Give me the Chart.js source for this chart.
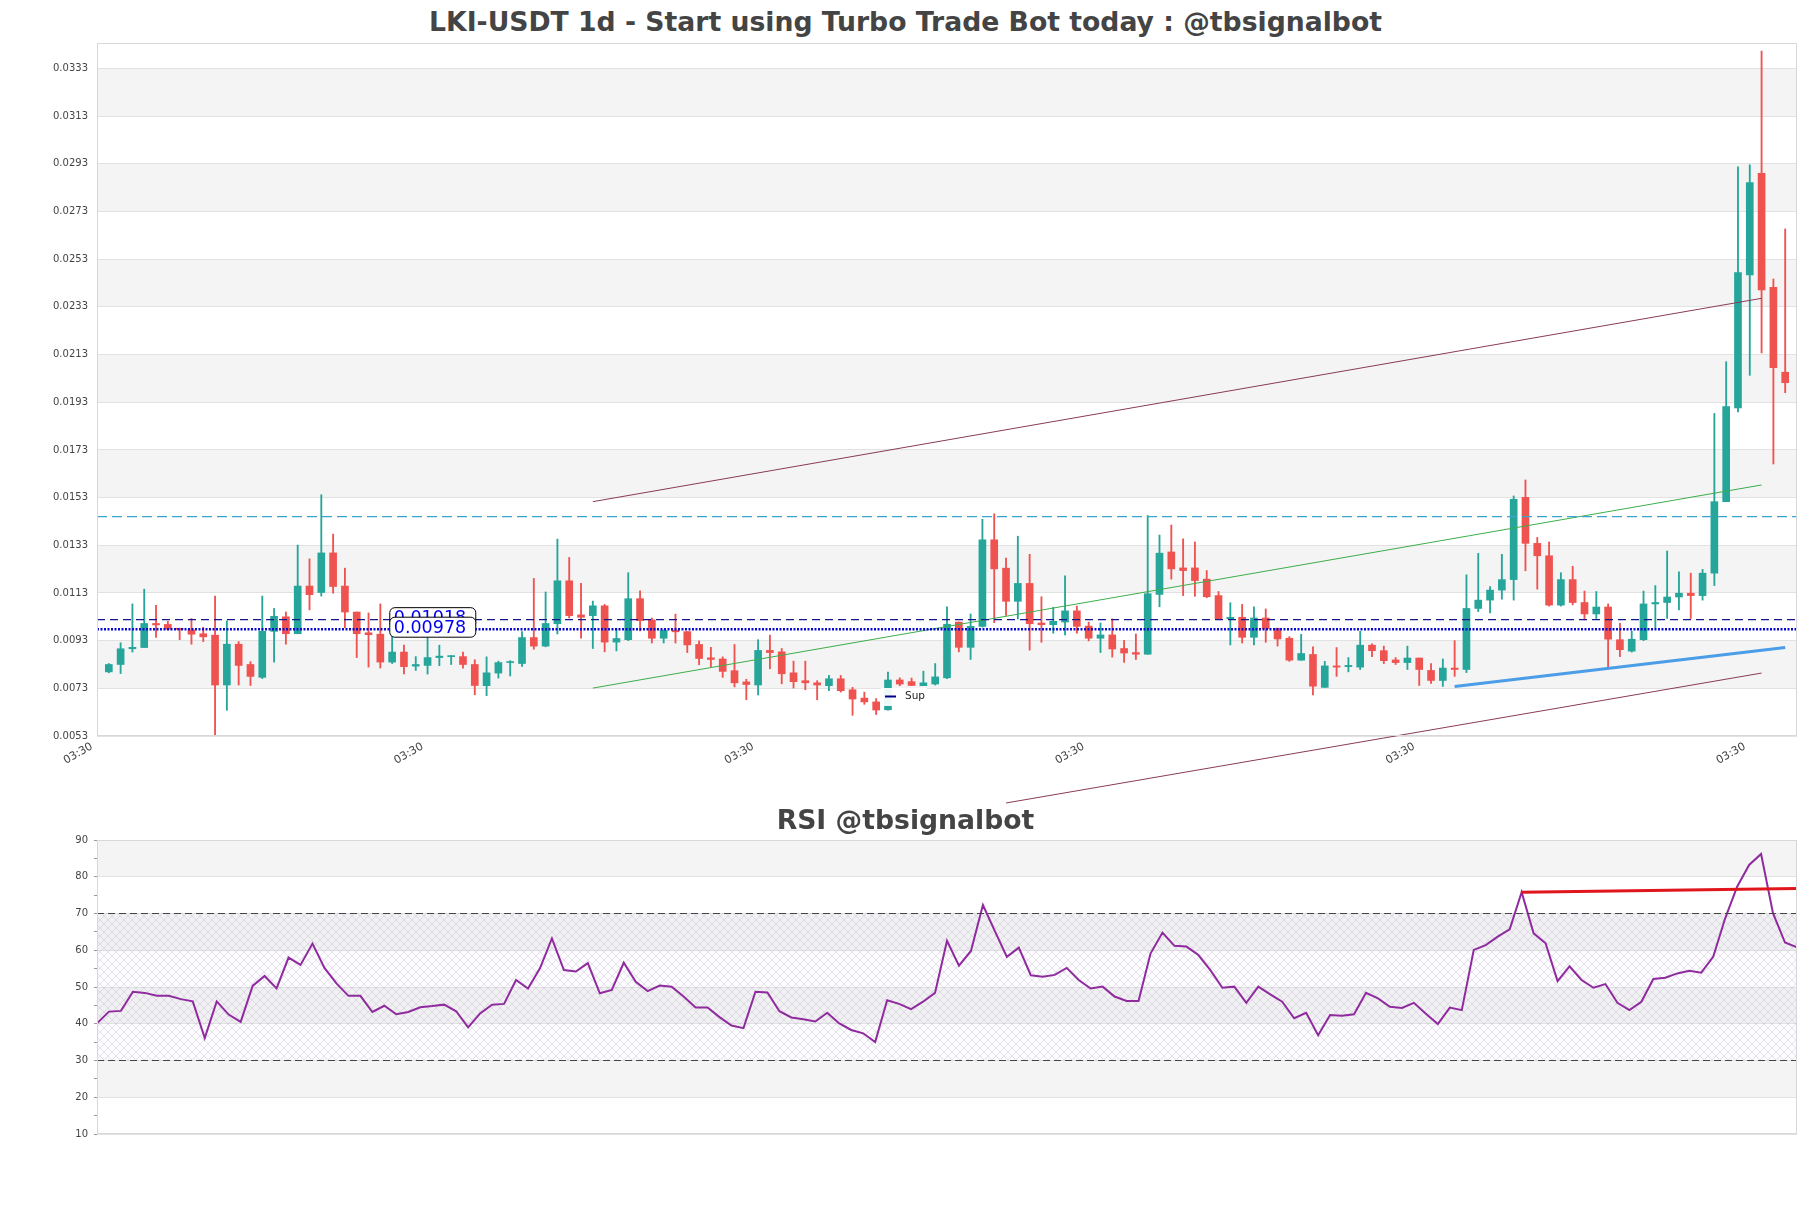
<!DOCTYPE html>
<html>
<head>
<meta charset="utf-8">
<title>LKI-USDT 1d</title>
<script src="https://cdn.jsdelivr.net/npm/chart.js@4.4.1/dist/chart.umd.min.js"></script>
<style>
  html, body { margin: 0; padding: 0; background: #fff; }
  body { width: 1811px; height: 1208px; position: relative; overflow: hidden; font-family: 'DejaVu Sans', sans-serif; }
  .title { position: absolute; left: 0; width: 1811px; text-align: center; font-weight: bold;
           font-size: 26.67px; line-height: 26.67px; color: #444; white-space: nowrap; }
  #mainChart { position: absolute; left: 0; top: 0; }
  #rsiChart { position: absolute; left: 0; top: 820px; }
</style>
</head>
<body>
<div class="title" style="top:9px">LKI-USDT 1d - Start using Turbo Trade Bot today : @tbsignalbot</div>
<canvas id="mainChart" width="1811" height="820"></canvas>
<canvas id="rsiChart" width="1811" height="388"></canvas>
<div class="title" style="top:807px">RSI @tbsignalbot</div>

<script>
/* LKI-USDT 1d — candles, levels, trend lines and RSI */

// ============ DATA ============
const opens = [
  0.00799, 0.00830, 0.00896, 0.00901, 0.01002, 0.00998, 0.00982, 0.00975, 0.00959, 0.00953,
  0.00744, 0.00915, 0.00830, 0.00776, 0.00969, 0.01030, 0.00959, 0.01159, 0.01132, 0.01298,
  0.01159, 0.01050, 0.00963, 0.00957, 0.00840, 0.00882, 0.00823, 0.00826, 0.00859, 0.00863,
  0.00863, 0.00830, 0.00741, 0.00794, 0.00838, 0.00834, 0.00943, 0.00907, 0.01001, 0.01181,
  0.01038, 0.01035, 0.01076, 0.00924, 0.00934, 0.01106, 0.01017, 0.00940, 0.00974, 0.00968,
  0.00914, 0.00858, 0.00853, 0.00804, 0.00757, 0.00744, 0.00889, 0.00883, 0.00795, 0.00762,
  0.00753, 0.00741, 0.00770, 0.00724, 0.00689, 0.00673, 0.00640, 0.00765, 0.00758, 0.00741,
  0.00748, 0.00774, 0.01008, 0.00902, 0.00990, 0.01353, 0.01234, 0.01095, 0.01170, 0.01004,
  0.00997, 0.01008, 0.01055, 0.00991, 0.00940, 0.00954, 0.00897, 0.00880, 0.00873, 0.01124,
  0.01302, 0.01235, 0.01235, 0.01188, 0.01119, 0.01022, 0.01028, 0.00944, 0.01025, 0.00982,
  0.00940, 0.00848, 0.00872, 0.00734, 0.00824, 0.00821, 0.00819, 0.00911, 0.00888, 0.00849,
  0.00838, 0.00857, 0.00805, 0.00763, 0.00815, 0.00809, 0.01065, 0.01100, 0.01142, 0.01186,
  0.01531, 0.01338, 0.01286, 0.01079, 0.01186, 0.01090, 0.01042, 0.01071, 0.00934, 0.00886,
  0.00934, 0.01084, 0.01090, 0.01113, 0.01129, 0.01119, 0.01213, 0.01513, 0.01906, 0.02464,
  0.02890, 0.02412, 0.02056
];
const highs = [
  0.00834, 0.00921, 0.01084, 0.01146, 0.01078, 0.01011, 0.00982, 0.01023, 0.00986, 0.01117,
  0.01013, 0.00926, 0.00842, 0.01117, 0.01065, 0.01050, 0.01331, 0.01273, 0.01542, 0.01377,
  0.01234, 0.01050, 0.01046, 0.01084, 0.00953, 0.00911, 0.00863, 0.00950, 0.00911, 0.00867,
  0.00882, 0.00850, 0.00862, 0.00844, 0.00846, 0.00968, 0.01191, 0.01134, 0.01356, 0.01279,
  0.01170, 0.01096, 0.01082, 0.00982, 0.01215, 0.01139, 0.01025, 0.00975, 0.01041, 0.00968,
  0.00929, 0.00902, 0.00862, 0.00914, 0.00768, 0.00934, 0.00953, 0.00897, 0.00844, 0.00844,
  0.00762, 0.00784, 0.00784, 0.00734, 0.00714, 0.00687, 0.00798, 0.00774, 0.00773, 0.00802,
  0.00834, 0.01072, 0.01008, 0.01042, 0.01439, 0.01462, 0.01276, 0.01368, 0.01292, 0.01114,
  0.01070, 0.01202, 0.01075, 0.01008, 0.01004, 0.01021, 0.00931, 0.00958, 0.01455, 0.01373,
  0.01415, 0.01357, 0.01344, 0.01224, 0.01136, 0.01089, 0.01082, 0.01072, 0.01063, 0.00982,
  0.00947, 0.00957, 0.00904, 0.00843, 0.00901, 0.00859, 0.00969, 0.00917, 0.00907, 0.00859,
  0.00907, 0.00857, 0.00834, 0.00853, 0.00930, 0.01206, 0.01296, 0.01157, 0.01292, 0.01537,
  0.01604, 0.01363, 0.01344, 0.01215, 0.01242, 0.01138, 0.01136, 0.01084, 0.01003, 0.00969,
  0.01138, 0.01161, 0.01306, 0.01219, 0.01213, 0.01229, 0.01883, 0.02100, 0.02918, 0.02926,
  0.03403, 0.02447, 0.02657
];
const lows = [
  0.00795, 0.00792, 0.00882, 0.00901, 0.00944, 0.00975, 0.00934, 0.00915, 0.00926, 0.00530,
  0.00638, 0.00744, 0.00742, 0.00771, 0.00840, 0.00915, 0.00959, 0.01059, 0.01117, 0.01129,
  0.00984, 0.00859, 0.00819, 0.00815, 0.00834, 0.00790, 0.00805, 0.00790, 0.00825, 0.00830,
  0.00815, 0.00703, 0.00699, 0.00773, 0.00782, 0.00822, 0.00894, 0.00904, 0.00958, 0.01025,
  0.00940, 0.00897, 0.00883, 0.00887, 0.00930, 0.00971, 0.00920, 0.00920, 0.00920, 0.00880,
  0.00829, 0.00821, 0.00776, 0.00736, 0.00682, 0.00702, 0.00812, 0.00749, 0.00731, 0.00724,
  0.00682, 0.00720, 0.00714, 0.00617, 0.00663, 0.00620, 0.00638, 0.00741, 0.00741, 0.00741,
  0.00744, 0.00770, 0.00883, 0.00851, 0.00987, 0.01005, 0.01036, 0.01021, 0.00890, 0.00923,
  0.00961, 0.00954, 0.00961, 0.00929, 0.00880, 0.00861, 0.00839, 0.00851, 0.00873, 0.01072,
  0.01188, 0.01119, 0.01116, 0.01110, 0.01018, 0.00912, 0.00920, 0.00912, 0.00923, 0.00907,
  0.00843, 0.00848, 0.00702, 0.00734, 0.00780, 0.00799, 0.00809, 0.00863, 0.00834, 0.00830,
  0.00809, 0.00742, 0.00751, 0.00738, 0.00780, 0.00796, 0.01052, 0.01046, 0.01104, 0.01100,
  0.01223, 0.01146, 0.01075, 0.01075, 0.01080, 0.01017, 0.01023, 0.00819, 0.00863, 0.00882,
  0.00930, 0.00984, 0.01023, 0.01059, 0.01023, 0.01100, 0.01161, 0.01513, 0.01889, 0.02043,
  0.02137, 0.01671, 0.01970
];
const closes = [
  0.00830, 0.00896, 0.00902, 0.01002, 0.00996, 0.00978, 0.00977, 0.00957, 0.00946, 0.00744,
  0.00915, 0.00826, 0.00780, 0.00969, 0.01032, 0.00959, 0.01159, 0.01123, 0.01298, 0.01157,
  0.01050, 0.00959, 0.00955, 0.00840, 0.00882, 0.00821, 0.00830, 0.00859, 0.00865, 0.00867,
  0.00830, 0.00742, 0.00795, 0.00838, 0.00842, 0.00943, 0.00907, 0.01002, 0.01181, 0.01035,
  0.01028, 0.01076, 0.00924, 0.00939, 0.01106, 0.01014, 0.00940, 0.00973, 0.00967, 0.00912,
  0.00855, 0.00851, 0.00801, 0.00753, 0.00746, 0.00889, 0.00880, 0.00791, 0.00758, 0.00753,
  0.00744, 0.00770, 0.00720, 0.00685, 0.00673, 0.00639, 0.00765, 0.00748, 0.00742, 0.00753,
  0.00778, 0.00999, 0.00902, 0.00990, 0.01353, 0.01231, 0.01095, 0.01170, 0.01001, 0.00997,
  0.01011, 0.01055, 0.00990, 0.00940, 0.00954, 0.00895, 0.00878, 0.00873, 0.01127, 0.01297,
  0.01231, 0.01224, 0.01182, 0.01114, 0.01022, 0.01028, 0.00944, 0.01025, 0.00980, 0.00937,
  0.00848, 0.00876, 0.00739, 0.00824, 0.00819, 0.00826, 0.00911, 0.00888, 0.00846, 0.00838,
  0.00857, 0.00809, 0.00763, 0.00815, 0.00809, 0.01065, 0.01100, 0.01142, 0.01186, 0.01523,
  0.01338, 0.01286, 0.01079, 0.01186, 0.01090, 0.01042, 0.01071, 0.00936, 0.00892, 0.00936,
  0.01084, 0.01090, 0.01113, 0.01129, 0.01119, 0.01213, 0.01513, 0.01912, 0.02474, 0.02851,
  0.02401, 0.02075, 0.02012
];
const rsiValues = [
  40.1, 43.3, 43.5, 48.7, 48.4, 47.6, 47.6, 46.7, 46.1, 36.1,
  46.1, 42.5, 40.5, 50.3, 53.0, 49.6, 58.0, 56.0, 61.8, 55.2,
  51.0, 47.6, 47.6, 43.2, 44.9, 42.6, 43.2, 44.5, 44.8, 45.2,
  43.4, 39.0, 42.8, 45.2, 45.4, 51.9, 49.6, 55.1, 63.2, 54.6,
  54.2, 56.5, 48.3, 49.2, 56.6, 51.4, 48.9, 50.4, 50.1, 47.4,
  44.4, 44.4, 41.8, 39.5, 38.8, 48.7, 48.5, 43.4, 41.7, 41.2,
  40.6, 43.0, 40.1, 38.3, 37.4, 35.0, 46.4, 45.4, 44.0, 46.0,
  48.4, 62.6, 55.8, 59.8, 72.3, 65.2, 58.2, 60.7, 53.2, 52.8,
  53.3, 55.2, 51.9, 49.6, 50.1, 47.4, 46.2, 46.2, 59.1, 64.8,
  61.2, 61.0, 58.7, 54.6, 49.8, 50.1, 45.7, 50.1, 48.0, 46.0,
  41.5, 43.0, 36.9, 42.4, 42.2, 42.6, 48.4, 46.9, 44.6, 44.3,
  45.7, 42.7, 39.9, 44.4, 43.7, 60.1, 61.4, 63.7, 65.7, 75.8,
  64.6, 61.9, 51.6, 55.6, 51.9, 49.8, 50.8, 45.7, 43.7, 46.0,
  52.2, 52.5, 53.7, 54.4, 53.9, 58.2, 68.7, 77.3, 83.2, 86.2,
  70.0, 62.1, 60.8
];

const priceTicks = [0.0053, 0.0073, 0.0093, 0.0113, 0.0133, 0.0153, 0.0173, 0.0193,
                    0.0213, 0.0233, 0.0253, 0.0273, 0.0293, 0.0313, 0.0333];
const rsiTicks = [10, 15, 20, 25, 30, 35, 40, 45, 50, 55, 60, 65, 70, 75, 80, 85, 90];
const xTickIdx = [-1, 27, 55, 83, 111, 139];
const xTickLabels = ['03:30', '03:30', '03:30', '03:30', '03:30', '03:30'];

// horizontal levels: resistance (dash-dot), upper level, lower level
const levelValues = [0.0145, 0.01018, 0.00978];
const boxedLevels = [0.01018, 0.00978];
const boxedLevelIdx = 23.8;

// trend lines [start, end]
const upperChannelX = [41, 140], upperChannelY = [0.01513, 0.02366];
const lowerChannelX = [76, 140], lowerChannelY = [0.00249, 0.00794];
const greenTrendX = [41, 140],   greenTrendY = [0.00731, 0.01583];
const supLineX = [114, 142],     supLineY = [0.00738, 0.00901];
const rsiTrendX = [119, 142],    rsiTrendY = [75.8, 76.8];
const rsiLevels = [70, 30];

const UP = '#26a69a';
const DOWN = '#ef5350';
const FONT = 'DejaVu Sans';

Chart.defaults.font.family = FONT;
Chart.defaults.animation = false;

// ============ PLUGINS ============
const bandsPlugin = {
  id: 'bands',
  beforeDraw(chart, args, opts) {
    const { ctx, chartArea: a, scales: { y } } = chart;
    const major = opts.ticks;
    ctx.save();
    ctx.fillStyle = '#f4f4f4';
    for (let k = 1; k + 1 < major.length; k += 2) {
      const y1 = y.getPixelForValue(major[k + 1]);
      const y2 = y.getPixelForValue(major[k]);
      ctx.fillRect(a.left, y1, a.width, y2 - y1);
    }
    ctx.restore();
  }
};

const framePlugin = {
  id: 'frame',
  afterDraw(chart) {
    const { ctx, chartArea: a } = chart;
    ctx.save();
    ctx.strokeStyle = '#d8d8d8';
    ctx.lineWidth = 1;
    ctx.strokeRect(Math.round(a.left) + 0.5, Math.round(a.top) + 0.5,
                   Math.round(a.width) - 1, Math.round(a.height) - 1);
    ctx.restore();
  }
};

const levelBoxPlugin = {
  id: 'levelBoxes',
  afterDatasetsDraw(chart) {
    const { ctx, scales: { x, y } } = chart;
    const left = x.getPixelForValue(boxedLevelIdx);
    ctx.save();
    ctx.font = '17.5px ' + FONT;
    ctx.textBaseline = 'middle';
    boxedLevels.forEach(v => {
      const cy = y.getPixelForValue(v) - 2;
      ctx.beginPath();
      ctx.roundRect(left, cy - 10, 86, 20, 5);
      ctx.fillStyle = '#fff';
      ctx.fill();
      ctx.strokeStyle = '#000';
      ctx.lineWidth = 1;
      ctx.stroke();
      ctx.fillStyle = '#0000ee';
      ctx.fillText(v.toFixed(5), left + 4, cy + 1);
    });
    ctx.restore();
  }
};

const supLegendPlugin = {
  id: 'supLegend',
  afterDatasetsDraw(chart) {
    const { ctx } = chart;
    ctx.save();
    ctx.fillStyle = 'rgba(255,255,255,0.92)';
    ctx.fillRect(881, 688, 46, 18);
    ctx.strokeStyle = '#00008b';
    ctx.lineWidth = 2;
    ctx.beginPath();
    ctx.moveTo(885, 696.5);
    ctx.lineTo(896, 696.5);
    ctx.stroke();
    ctx.fillStyle = '#222';
    ctx.font = '10.5px ' + FONT;
    ctx.textBaseline = 'middle';
    ctx.fillText('Sup', 905, 696.5);
    ctx.restore();
  }
};

function makeHatch() {
  const c = document.createElement('canvas');
  c.width = 8; c.height = 8;
  const g = c.getContext('2d');
  g.strokeStyle = 'rgba(165,150,185,0.36)';
  g.lineWidth = 0.7;
  g.beginPath();
  g.moveTo(0, 0); g.lineTo(8, 8);
  g.moveTo(8, 0); g.lineTo(0, 8);
  g.stroke();
  return c;
}

const hatchPlugin = {
  id: 'hatch',
  beforeDatasetsDraw(chart) {
    const { ctx, chartArea: a, scales: { y } } = chart;
    const y1 = y.getPixelForValue(rsiLevels[0]);
    const y2 = y.getPixelForValue(rsiLevels[1]);
    ctx.save();
    ctx.fillStyle = 'rgba(200,175,215,0.05)';
    ctx.fillRect(a.left, y1, a.width, y2 - y1);
    ctx.fillStyle = ctx.createPattern(makeHatch(), 'repeat');
    ctx.fillRect(a.left, y1, a.width, y2 - y1);
    ctx.restore();
  }
};

// ============ HELPERS ============
function segment(xs, ys) {
  return xs.map((x, i) => ({ x: x, y: ys[i] }));
}

function lineSet(data, color, width, dash, extra) {
  return Object.assign({
    type: 'line', data: data, borderColor: color, borderWidth: width,
    borderDash: dash || [], pointRadius: 0, fill: false, tension: 0, order: 0
  }, extra || {});
}

// ============ MAIN CHART ============
function initMainChart() {
  const idx = opens.map((_, i) => i);
  const colors = idx.map(i => (closes[i] >= opens[i] ? UP : DOWN));
  const span = [xTickIdx[0], 143];

  new Chart(document.getElementById('mainChart'), {
    type: 'bar',
    data: {
      datasets: [
        lineSet(segment(span, [levelValues[0], levelValues[0]]), '#3ba3d0', 1.2, [10, 5]),
        lineSet(segment(span, [levelValues[1], levelValues[1]]), '#16168c', 1.3, [8, 5]),
        lineSet(segment(span, [levelValues[2], levelValues[2]]), '#0a0ad0', 2.6, [2, 1.5]),
        lineSet(segment(upperChannelX, upperChannelY), '#8a3b55', 1),
        lineSet(segment(lowerChannelX, lowerChannelY), '#8a3b55', 1, [], { clip: false }),
        lineSet(segment(greenTrendX, greenTrendY), '#3cae4a', 1),
        lineSet(segment(supLineX, supLineY), '#4a9de6', 3),
        {
          label: 'body',
          data: idx.map(i => ({ x: i, y: [opens[i], closes[i]] })),
          backgroundColor: colors,
          barThickness: 7,
          minBarLength: 1,
          grouped: false,
          borderWidth: 0,
          order: 1
        },
        {
          label: 'wick',
          data: idx.map(i => ({ x: i, y: [lows[i], highs[i]] })),
          backgroundColor: colors,
          barThickness: 1.2,
          grouped: false,
          borderWidth: 0,
          order: 2
        }
      ]
    },
    options: {
      responsive: false,
      devicePixelRatio: 1,
      animation: false,
      layout: { padding: { top: 43, right: 14, left: 0, bottom: 0 } },
      plugins: {
        legend: { display: false },
        tooltip: { enabled: false },
        bands: { ticks: priceTicks }
      },
      scales: {
        x: {
          type: 'linear',
          min: -1,
          max: 143,
          offset: false,
          grid: { display: false },
          border: { display: false },
          afterBuildTicks: s => { s.ticks = xTickIdx.map(v => ({ value: v })); },
          afterFit: s => { s.height = 84; },
          ticks: {
            autoSkip: false,
            minRotation: 30,
            maxRotation: 30,
            padding: -4,
            labelOffset: -5,
            color: '#444',
            font: { size: 11 },
            callback: (v, i) => xTickLabels[i]
          }
        },
        y: {
          min: 0.0053,
          max: 0.03437,
          beginAtZero: false,
          grid: { color: '#e2e2e2', drawTicks: false },
          border: { display: false },
          afterBuildTicks: s => { s.ticks = priceTicks.map(v => ({ value: v })); },
          afterFit: s => { s.width = 97; },
          ticks: {
            padding: 9,
            color: '#444',
            font: { size: 10 },
            callback: v => v.toFixed(4)
          }
        }
      }
    },
    plugins: [bandsPlugin, framePlugin, levelBoxPlugin, supLegendPlugin]
  });
}

// ============ RSI CHART ============
function initRsiChart() {
  const idx = rsiValues.map((_, i) => i);
  const majors = rsiTicks.filter(v => v % 10 === 0);

  new Chart(document.getElementById('rsiChart'), {
    type: 'line',
    data: {
      datasets: [
        lineSet(segment(rsiTrendX, rsiTrendY), '#e0161c', 3),
        lineSet(segment([0, idx.length - 1], [rsiLevels[0], rsiLevels[0]]), '#444', 1.2, [7, 4], { order: 1 }),
        lineSet(segment([0, idx.length - 1], [rsiLevels[1], rsiLevels[1]]), '#444', 1.2, [7, 4], { order: 1 }),
        lineSet(idx.map(i => ({ x: i, y: rsiValues[i] })), '#8f2b9e', 2, [], { order: 2 })
      ]
    },
    options: {
      responsive: false,
      devicePixelRatio: 1,
      animation: false,
      layout: { padding: { top: 20, right: 14, left: 0, bottom: 74 } },
      plugins: {
        legend: { display: false },
        tooltip: { enabled: false },
        bands: { ticks: majors }
      },
      scales: {
        x: { type: 'linear', min: 0, max: idx.length - 1, display: false },
        y: {
          min: 10,
          max: 90,
          grid: {
            color: c => (c.tick && c.tick.value % 10 === 0 ? '#e2e2e2' : 'rgba(0,0,0,0)'),
            tickColor: '#999',
            tickLength: 3,
            drawTicks: true
          },
          border: { display: false },
          afterBuildTicks: s => { s.ticks = rsiTicks.map(v => ({ value: v })); },
          afterFit: s => { s.width = 97; },
          ticks: {
            padding: 6,
            color: '#444',
            font: { size: 10 },
            callback: v => (v % 10 === 0 ? String(v) : '')
          }
        }
      }
    },
    plugins: [bandsPlugin, hatchPlugin, framePlugin]
  });
}

document.addEventListener('DOMContentLoaded', () => {
  initMainChart();
  initRsiChart();
});
</script>
</body>
</html>
